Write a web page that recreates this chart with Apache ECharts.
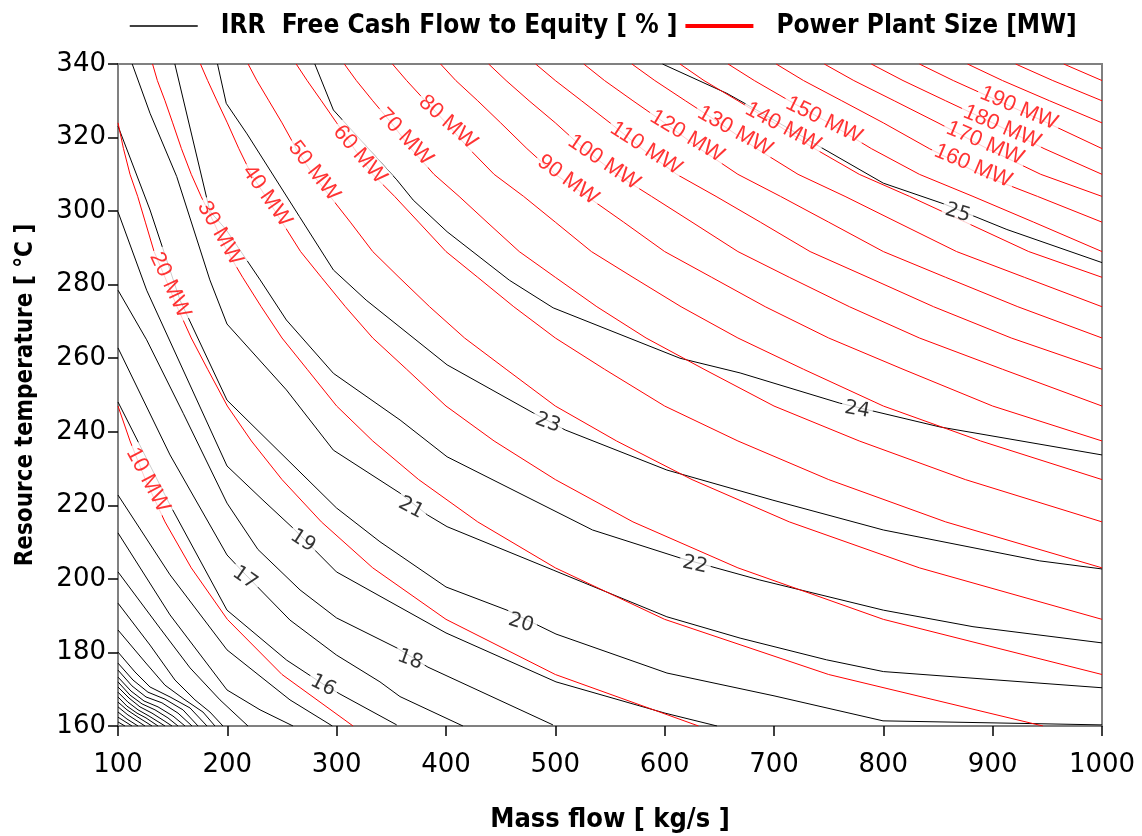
<!DOCTYPE html>
<html>
<head>
<meta charset="utf-8">
<script src="https://cdn.jsdelivr.net/npm/echarts@6/dist/echarts.min.js"></script>
<style>
  html, body { margin: 0; padding: 0; background: #fff; }
  #chart { width: 1142px; height: 836px; }
</style>
</head>
<body>
<div id="chart"></div>
<script>
// IRR contours [mass flow, temperature]
var irr25 = [[598,340],[657,332],[687,327],[742,317.5],[800,307.6],[855,302],[913,295],[1000,286]];
var irr24 = [[280,340],[297,327.5],[355,308.5],[370,303],[401,294.4],[458,281.2],[498,273.7],[614,260],[669,256],[760,247.8],[852,241.3],[1000,233.7]];
var irr23 = [[191,340],[199,329.3],[218,321],[266,298.5],[297,284],[327,275.8],[401,258.2],[480,245.1],[509,240.5],[602,229.6],[699,221.4],[800,213.3],[943,204.9],[1000,202.7]];
var irr22 = [[152,340],[184,300],[199,294.9],[230,281.3],[254,270.4],[297,255.9],[358,243.2],[401,233.2],[534,213.3],[614,205.7],[687,199.7],[800,191.5],[882,187],[1000,182.6]];
var irr21 = [[113,340],[129.3,326.6],[153.7,309.4],[184,281.3],[199.7,269.3],[254,251.4],[297,235],[358,223.3],[383,217.4],[401,214.2],[498,202.4],[602,189.7],[669,183.9],[748,178],[800,174.8],[1000,170.4]];
var irr20 = [[100,323.1],[129.3,300.3],[156.7,275.8],[199.7,248.6],[299.8,219.3],[339.6,210.1],[400,197.8],[455.8,191.5],[500.6,185],[602.1,174.4],[700,168.2],[799.7,161.4],[1000,160.3]];
var irr19 = [[100,299.8],[126.2,278.5],[199.7,230.7],[232.6,221.4],[260.1,213.8],[299.8,201.9],[400,185.3],[500.6,172],[600.3,163.5],[647.9,160]];
var irr18 = [[100,278.5],[126.2,265],[159.7,245],[199.7,220.6],[228,208],[266.5,197],[299.8,189.4],[355.2,181.2],[383.5,176],[497.8,160.3]];
var irr17 = [[100,262.8],[147.6,233.7],[199.7,206.5],[216.2,201.3],[257.3,188.8],[299.8,179.3],[339.6,172],[357.9,168],[415.5,160]];
var irr16 = [[100,248.1],[147.6,220.1],[199.7,191.5],[254.3,177.9],[287.5,171.4],[303,168.7],[354.9,160.3]];
var irr15 = [[100,222.8],[147.6,201.1],[199.7,180.7],[257.3,167.1],[296.1,160]];
var irr14 = [[100,212.5],[147.6,190.2],[199.7,169.8],[229.9,164.4],[260.1,160]];
var irr13 = [[100,201.9],[138.4,186.6],[165.9,175.8],[193.3,167.1],[218.9,160]];
var irr12 = [[100,193.4],[129.3,182],[152.1,172.5],[170.4,167.1],[184.1,163.8],[196,160]];
var irr11 = [[100,186.1],[124.7,177.4],[143,171.1],[161.3,167.1],[177.7,163.8],[188.7,160]];
var irr10 = [[100,180.1],[115.5,174.7],[129.3,170.6],[147.6,167.9],[165.9,164.9],[181.4,160]];
var irr9 = [[100,177.1],[113.7,172.5],[127.4,169.2],[143,167.3],[159.4,164.4],[173.2,160]];
var irr8 = [[100,175.2],[112.8,170.9],[125.6,167.9],[140.2,166.3],[154.9,163.5],[167.7,160]];
var irr7 = [[100,173.3],[111.9,169.5],[123.8,166.8],[136.6,165.2],[150.3,162.7],[161.3,160]];
var irr6 = [[100,172],[111,168.4],[122,166],[133.8,164.4],[145.7,162.2],[154.9,160]];
var irr5 = [[100,170.6],[110.1,167.6],[120.1,165.2],[131.1,163.5],[141.2,161.6],[149.4,160]];
var irr4 = [[100,169.2],[109.1,166.5],[118.3,164.4],[128.4,162.7],[143,160]];
var irr3 = [[100,167.9],[108.2,165.4],[117.4,163.5],[125.6,162.2],[136.6,160]];
var irr2 = [[100,166.5],[108.2,164.4],[118.3,162.4],[131.1,160]];
var irr1 = [[100,165.2],[109.1,163],[124.7,160]];
var irr0 = [[100,163.8],[108.2,161.9],[118.3,160]];
var irrM1 = [[100,162.4],[112.8,160]];
var irrM2 = [[100,161.1],[106.4,160]];

// power plant size contours [mass flow, temperature]
var mw10 = [[315,160],[250,174],[200,189],[167,203],[143,215.5],[125,227],[111,237.5],[100,247]];
var mw20 = [[631,160],[500,174],[400,189],[333,203],[286,215.5],[250,227],[222,237.5],[200,247],[182,257],[167,265.5],[154,274],[143,282],[133,289],[125,297],[118,304],[111,310],[105,317],[100,324]];
var mw30 = [[946,160],[750,174],[600,189],[500,203],[429,215.5],[375,227],[333,237.5],[300,247],[273,257],[250,265.5],[231,274],[214,282],[200,289],[187.5,297],[176,304],[167,310],[158,317],[150,324],[143,330],[136,335.5],[131.6,340]];
var mw40 = [[1000,174],[800,189],[667,203],[571,215.5],[500,227],[444,237.5],[400,247],[364,257],[333,265.5],[308,274],[286,282],[267,289],[250,297],[235,304],[222,310],[210.5,317],[200,324],[190.5,330],[182,335.5],[175.4,340]];
var mw50 = [[1000,189],[833,203],[714,215.5],[625,227],[556,237.5],[500,247],[455,257],[417,265.5],[385,274],[357,282],[333,289],[312.5,297],[294,304],[278,310],[263,317],[250,324],[238,330],[227,335.5],[219,340]];
var mw60 = [[1000,203],[857,215.5],[750,227],[667,237.5],[600,247],[545,257],[500,265.5],[462,274],[429,282],[400,289],[375,297],[353,304],[333,310],[316,317],[300,324],[286,330],[273,335.5],[263,340]];
var mw70 = [[1000,215.5],[875,227],[778,237.5],[700,247],[636,257],[583,265.5],[538,274],[500,282],[467,289],[437.5,297],[412,304],[389,310],[368,317],[350,324],[333,330],[318,335.5],[307,340]];
var mw80 = [[1000,227],[889,237.5],[800,247],[727,257],[667,265.5],[615,274],[571,282],[533,289],[500,297],[471,304],[444,310],[421,317],[400,324],[381,330],[364,335.5],[351,340]];
var mw90 = [[1000,237.5],[900,247],[818,257],[750,265.5],[692,274],[643,282],[600,289],[562.5,297],[529,304],[500,310],[474,317],[450,324],[429,330],[409,335.5],[395,340]];
var mw100 = [[1000,247],[909,257],[833,265.5],[769,274],[714,282],[667,289],[625,297],[588,304],[556,310],[526,317],[500,324],[476,330],[455,335.5],[439,340]];
var mw110 = [[1000,257],[917,265.5],[846,274],[786,282],[733,289],[687.5,297],[647,304],[611,310],[579,317],[550,324],[524,330],[500,335.5],[482,340]];
var mw120 = [[1000,265.5],[923,274],[857,282],[800,289],[750,297],[706,304],[667,310],[632,317],[600,324],[571,330],[545,335.5],[526,340]];
var mw130 = [[1000,274],[929,282],[867,289],[812.5,297],[765,304],[722,310],[684,317],[650,324],[619,330],[591,335.5],[570,340]];
var mw140 = [[1000,282],[933,289],[875,297],[824,304],[778,310],[737,317],[700,324],[667,330],[636,335.5],[614,340]];
var mw150 = [[1000,289],[937.5,297],[882,304],[833,310],[789,317],[750,324],[714,330],[682,335.5],[658,340]];
var mw160 = [[1000,297],[941,304],[889,310],[842,317],[800,324],[762,330],[727,335.5],[702,340]];
var mw170 = [[1000,304],[944,310],[895,317],[850,324],[810,330],[773,335.5],[746,340]];
var mw180 = [[1000,310],[947,317],[900,324],[857,330],[818,335.5],[789,340]];
var mw190 = [[1000,317],[950,324],[905,330],[864,335.5],[833,340]];
var mw200 = [[1000,324],[952,330],[909,335.5],[877,340]];
var mw210 = [[1000,330],[955,335.5],[921,340]];
var mw220 = [[1000,335.5],[965,340]];

var irrLines = [irrM2, irrM1, irr0, irr1, irr2, irr3, irr4, irr5, irr6, irr7, irr8, irr9, irr10,
  irr11, irr12, irr13, irr14, irr15, irr16, irr17, irr18, irr19, irr20, irr21, irr22, irr23, irr24, irr25];
var mwLines = [mw10, mw20, mw30, mw40, mw50, mw60, mw70, mw80, mw90, mw100, mw110,
  mw120, mw130, mw140, mw150, mw160, mw170, mw180, mw190, mw200, mw210, mw220];

// contour labels: [mass flow, temperature, text, angle]
var irrLabels = [[287.5,171,'16',-27],[216,200.2,'17',-35],[367,178,'18',-20],[269,210.3,'19',-33],
  [468.6,188,'20',-17],[368,219.3,'21',-28],[627.7,203.8,'22',-12],[493,242.4,'23',-20],
  [776,246,'24',-10],[868,299.5,'25',-17]];
var mwLabels = [[127.4,226.9,'10 MW',-62],[147.6,279.9,'20 MW',-65],[193.3,294,'30 MW',-60],
  [236.3,304.1,'40 MW',-55],[279.3,310.9,'50 MW',-52],[321.3,315.4,'60 MW',-49],
  [362.5,320.2,'70 MW',-46],[401.8,324.2,'80 MW',-41],[511.6,308.5,'90 MW',-36],
  [544.5,313.3,'100 MW',-34],[582.9,317.1,'110 MW',-33],[620.4,320.4,'120 MW',-31],
  [664.3,321.8,'130 MW',-29],[708.2,322.9,'140 MW',-28],[745.7,324.8,'150 MW',-26],
  [882,312.3,'160 MW',-23],[893,318.5,'170 MW',-23],[908.5,322.9,'180 MW',-23],[924,328,'190 MW',-23]];

var IRR_NAME = 'IRR  Free Cash Flow to Equity [ % ]';
var MW_NAME = 'Power Plant Size [MW]';
var boldFont = '"Liberation Sans Narrow", "DejaVu Sans Condensed", "Open Sans", sans-serif';
var tickFont = '"DejaVu Sans", Verdana, sans-serif';

var chart = echarts.init(document.getElementById('chart'), null, { renderer: 'canvas' });

var series = [];
irrLines.forEach(function (line) {
  series.push({
    name: IRR_NAME, type: 'line', data: line, symbol: 'none', silent: true,
    lineStyle: { color: '#000', width: 1 }, itemStyle: { color: '#000' }, z: 2
  });
});
mwLines.forEach(function (line) {
  series.push({
    name: MW_NAME, type: 'line', data: line, symbol: 'none', silent: true,
    lineStyle: { color: '#ff0000', width: 1 }, itemStyle: { color: '#ff0000' }, z: 3
  });
});

function labelSeries(list, color, size, font) {
  return {
    type: 'scatter', silent: true, symbolSize: 1, z: 5,
    itemStyle: { color: 'rgba(0,0,0,0)' },
    data: list.map(function (d) {
      return {
        value: [d[0], d[1]],
        label: {
          show: true, position: 'inside', formatter: d[2], rotate: d[3],
          color: color, fontSize: size, fontFamily: font,
          backgroundColor: '#fff', padding: [0, 3]
        }
      };
    })
  };
}
series.push(labelSeries(irrLabels, '#000', 20, tickFont));
series.push(labelSeries(mwLabels, '#ff0000', 22, '"Liberation Sans", Arial, sans-serif'));

var option = {
  animation: false,
  backgroundColor: '#fff',
  legend: {
    top: 8, left: 124,
    itemWidth: 68, itemHeight: 14, itemGap: 6,
    textStyle: { fontSize: 26, fontWeight: 'bold', fontFamily: boldFont, color: '#000', padding: [0, 0, 0, 18] },
    data: [
      { name: IRR_NAME, itemStyle: { opacity: 0 }, lineStyle: { color: '#000', width: 1.5 } },
      { name: MW_NAME, itemStyle: { opacity: 0 }, lineStyle: { color: '#ff0000', width: 4 } }
    ]
  },
  grid: {
    left: 118, right: 40, top: 64, bottom: 110,
    containLabel: false, outerBoundsMode: 'none',
    show: true, borderColor: '#808080', borderWidth: 2, backgroundColor: '#fff'
  },
  xAxis: {
    type: 'value', min: 100, max: 1000, interval: 100,
    name: 'Mass flow [ kg/s ]', nameLocation: 'middle', nameGap: 80,
    nameTextStyle: { fontSize: 27, fontWeight: 'bold', fontFamily: boldFont, color: '#000' },
    axisLine: { show: true, lineStyle: { color: '#808080', width: 2 } },
    axisTick: { show: true, inside: false, length: 10, lineStyle: { color: '#000', width: 1.5 } },
    axisLabel: { fontSize: 26, color: '#000', margin: 26, fontFamily: tickFont,
      formatter: function (v) { return String(v); } },
    splitLine: { show: false }
  },
  yAxis: {
    type: 'value', min: 160, max: 340, interval: 20,
    name: 'Resource temperature [ °C ]', nameLocation: 'middle', nameGap: 80,
    nameTextStyle: { fontSize: 24, fontWeight: 'bold', fontFamily: boldFont, color: '#000' },
    axisLine: { show: true, lineStyle: { color: '#808080', width: 2 } },
    axisTick: { show: true, inside: false, length: 10, lineStyle: { color: '#000', width: 1.5 } },
    axisLabel: { fontSize: 26, color: '#000', margin: 12, fontFamily: tickFont,
      formatter: function (v) { return String(v); } },
    splitLine: { show: false }
  },
  series: series
};

chart.setOption(option);
</script>
</body>
</html>
